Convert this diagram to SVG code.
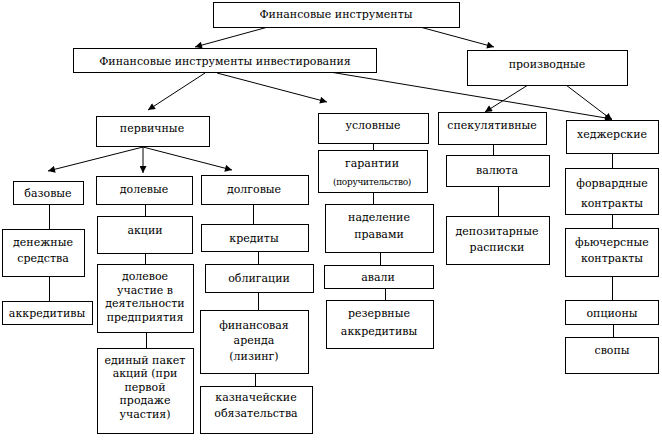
<svg xmlns="http://www.w3.org/2000/svg" width="662" height="445" viewBox="0 0 662 445">
<defs>
<marker id="ah" viewBox="0 0 10 10" refX="10" refY="5" markerWidth="8" markerHeight="7" markerUnits="userSpaceOnUse" orient="auto">
<path d="M0,0 L10,5 L0,10 z" fill="#000"/>
</marker>
<style>
rect{fill:#fff;stroke:#000;stroke-width:1}
text{font-family:'DejaVu Serif','Liberation Serif',serif;font-size:11px;font-weight:normal;fill:#000;text-anchor:middle;letter-spacing:0px}
.sm{font-size:9px;letter-spacing:-0.3px}
#conn line{stroke:#000;stroke-width:1;fill:none}
#conn .a{marker-end:url(#ah)}
</style>
</defs>
<rect x="0" y="0" width="662" height="445" style="stroke:none;fill:#fff"/>
<g id="conn">
<line class="a" x1="268" y1="27" x2="195" y2="47"/>
<line class="a" x1="420" y1="27" x2="494" y2="47"/>
<line class="a" x1="205" y1="73" x2="148" y2="110"/>
<line class="a" x1="217" y1="73" x2="327" y2="102"/>
<line class="a" x1="330" y1="72" x2="612" y2="119"/>
<line class="a" x1="528" y1="85" x2="485" y2="112"/>
<line class="a" x1="566" y1="85" x2="612" y2="120"/>
<line class="a" x1="143" y1="147" x2="48" y2="171"/>
<line class="a" x1="143" y1="147" x2="143" y2="173"/>
<line class="a" x1="143" y1="147" x2="232" y2="170"/>
<line x1="373.5" y1="143" x2="373.5" y2="150"/>
<line x1="373.5" y1="192" x2="373.5" y2="204"/>
<line x1="380.5" y1="252" x2="380.5" y2="265"/>
<line x1="385.5" y1="288" x2="385.5" y2="300"/>
<line x1="493.5" y1="144" x2="493.5" y2="155"/>
<line x1="498.5" y1="186" x2="498.5" y2="216"/>
<line x1="612.5" y1="153" x2="612.5" y2="168"/>
<line x1="612.5" y1="214" x2="612.5" y2="228"/>
<line x1="612.5" y1="276" x2="612.5" y2="300"/>
<line x1="613.5" y1="324" x2="613.5" y2="337"/>
<line x1="49.5" y1="204" x2="49.5" y2="229"/>
<line x1="49.5" y1="276" x2="49.5" y2="301"/>
<line x1="145.5" y1="204" x2="145.5" y2="216"/>
<line x1="145.5" y1="253" x2="145.5" y2="264"/>
<line x1="146.5" y1="332" x2="146.5" y2="348"/>
<line x1="253.5" y1="204" x2="253.5" y2="224"/>
<line x1="258.5" y1="251" x2="258.5" y2="264"/>
<line x1="258.5" y1="292" x2="258.5" y2="310"/>
<line x1="255.5" y1="373" x2="255.5" y2="386"/>
</g>
<g id="n1"><rect x="213.5" y="2.5" width="246" height="25"/><text x="336" y="18">Финансовые инструменты</text></g>
<g id="n2"><rect x="73.5" y="48.5" width="303" height="24"/><text x="225" y="64.5">Финансовые инструменты инвестирования</text></g>
<g id="n3"><rect x="467.5" y="50.5" width="160" height="35"/><text x="547" y="68">производные</text></g>
<g id="n4"><rect x="96.5" y="116.5" width="113" height="30"/><text x="152" y="132">первичные</text></g>
<g id="n5"><rect x="318.5" y="113.5" width="110" height="30"/><text x="373" y="129">условные</text></g>
<g id="n6"><rect x="438.5" y="112.5" width="108" height="32"/><text x="492" y="129">спекулятивные</text></g>
<g id="n7"><rect x="566.5" y="120.5" width="92" height="33"/><text x="612" y="138">хеджерские</text></g>
<g id="n8"><rect x="13.5" y="181.5" width="70" height="23"/><text x="48" y="197">базовые</text></g>
<g id="n9"><rect x="96.5" y="176.5" width="96" height="28"/><text x="144" y="193">долевые</text></g>
<g id="n10"><rect x="201.5" y="175.5" width="107" height="29"/><text x="254" y="193">долговые</text></g>
<g id="n11"><rect x="2.5" y="229.5" width="82" height="47"/><text x="43" y="246">денежные</text><text x="43" y="262">средства</text></g>
<g id="n12"><rect x="97.5" y="216.5" width="95" height="37"/><text x="145" y="234">акции</text></g>
<g id="n13"><rect x="201.5" y="224.5" width="107" height="27"/><text x="254" y="242">кредиты</text></g>
<g id="n14"><rect x="318.5" y="150.5" width="109" height="42"/><text x="372" y="167">гарантии</text><text class="sm" x="372" y="185">(поручительство)</text></g>
<g id="n15"><rect x="446.5" y="155.5" width="103" height="31"/><text x="497" y="174">валюта</text></g>
<g id="n16"><rect x="565.5" y="168.5" width="93" height="46"/><text x="612" y="187">форвардные</text><text x="612" y="207">контракты</text></g>
<g id="n17"><rect x="325.5" y="204.5" width="108" height="48"/><text x="379" y="221">наделение</text><text x="379" y="238">правами</text></g>
<g id="n18"><rect x="446.5" y="216.5" width="103" height="48"/><text x="497" y="235">депозитарные</text><text x="497" y="251">расписки</text></g>
<g id="n19"><rect x="565.5" y="228.5" width="93" height="48"/><text x="612" y="246">фьючерсные</text><text x="612" y="262">контракты</text></g>
<g id="n20"><rect x="97.5" y="264.5" width="96" height="68"/><text x="145" y="280">долевое</text><text x="145" y="294">участие в</text><text x="145" y="307">деятельности</text><text x="145" y="321">предприятия</text></g>
<g id="n21"><rect x="205.5" y="264.5" width="108" height="28"/><text x="259" y="282">облигации</text></g>
<g id="n22"><rect x="324.5" y="265.5" width="109" height="23"/><text x="378" y="281">авали</text></g>
<g id="n23"><rect x="2.5" y="301.5" width="90" height="23"/><text x="47" y="317">аккредитивы</text></g>
<g id="n24"><rect x="326.5" y="300.5" width="107" height="48"/><text x="379" y="317">резервные</text><text x="379" y="335">аккредитивы</text></g>
<g id="n25"><rect x="565.5" y="300.5" width="93" height="24"/><text x="612" y="317">опционы</text></g>
<g id="n26"><rect x="565.5" y="337.5" width="93" height="36"/><text x="612" y="354">свопы</text></g>
<g id="n27"><rect x="200.5" y="310.5" width="108" height="63"/><text x="254" y="329">финансовая</text><text x="254" y="344">аренда</text><text x="254" y="360">(лизинг)</text></g>
<g id="n28"><rect x="97.5" y="348.5" width="96" height="85"/><text x="145" y="364">единый пакет</text><text x="145" y="377">акций (при</text><text x="145" y="391">первой</text><text x="145" y="404">продаже</text><text x="145" y="418">участия)</text></g>
<g id="n29"><rect x="200.5" y="386.5" width="112" height="47"/><text x="256" y="401">казначейские</text><text x="256" y="417">обязательства</text></g>
</svg>
